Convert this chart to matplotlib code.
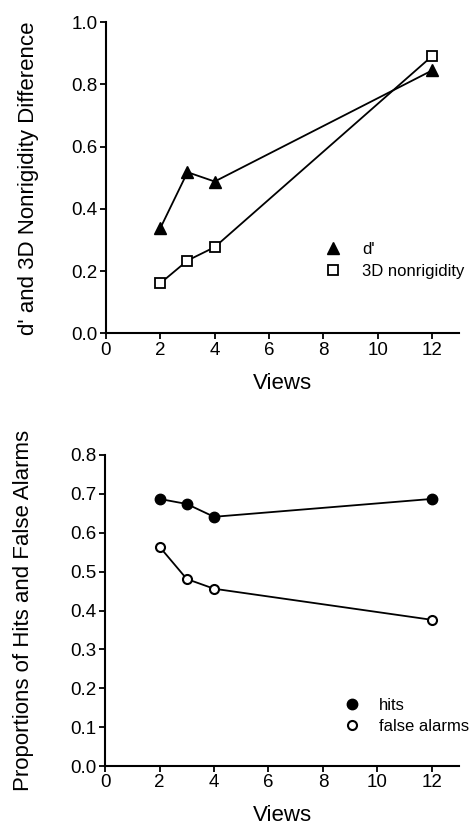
import matplotlib
matplotlib.use("Agg")
import matplotlib.pyplot as plt
from matplotlib.lines import Line2D

plt.rcParams['font.family'] = ['Liberation Sans', 'DejaVu Sans']

# data
views = [2, 3, 4, 12]
d_prime = [0.338, 0.518, 0.488, 0.845]
nonrigidity = [0.161, 0.234, 0.277, 0.891]
hits = [0.687, 0.674, 0.641, 0.687]
false_alarms = [0.564, 0.481, 0.456, 0.376]

x_ticks = [0, 2, 4, 6, 8, 10, 12]
top_yticks = [0.0, 0.2, 0.4, 0.6, 0.8, 1.0]
bot_yticks = [0.0, 0.1, 0.2, 0.3, 0.4, 0.5, 0.6, 0.7, 0.8]

fig = plt.figure(figsize=(4.69, 8.25), dpi=100)
ax1 = fig.add_axes([0.226, 0.596, 0.753, 0.377])
ax2 = fig.add_axes([0.224, 0.0715, 0.755, 0.377])


def style_axes(ax, yticks):
    ax.spines['top'].set_visible(False)
    ax.spines['right'].set_visible(False)
    ax.spines['left'].set_linewidth(1.5)
    ax.spines['bottom'].set_linewidth(1.5)
    ax.set_xlim(0, 13)
    ax.set_ylim(yticks[0], yticks[-1])
    ax.set_xticks(x_ticks)
    ax.set_yticks(yticks)
    ax.set_yticklabels([f"{v:.1f}" for v in yticks])
    ax.tick_params(direction='out', length=4, width=1.3, labelsize=13.5, pad=2)
    ax.set_xlabel("Views", fontsize=16, labelpad=10)


# top panel
ax1.plot(views, d_prime, color='black', lw=1.3, marker='^', ms=9,
         mfc='black', mec='black', clip_on=False)
ax1.plot(views, nonrigidity, color='black', lw=1.3, marker='s', ms=7.5,
         mfc='white', mec='black', mew=1.3, clip_on=False)
style_axes(ax1, top_yticks)
ax1.set_ylabel("d' and 3D Nonrigidity Difference", fontsize=16, labelpad=23)
handles1 = [Line2D([], [], ls='none', marker='^', ms=9, color='black'),
            Line2D([], [], ls='none', marker='s', ms=7.5, mfc='white',
                   mec='black', mew=1.3)]
ax1.legend(handles1, ["d'", "3D nonrigidity"], frameon=False, fontsize=12,
           loc='upper left', bbox_to_anchor=(0.6, 0.315), handlelength=1,
           handletextpad=1.25, labelspacing=0.4, borderaxespad=0)

# bottom panel
ax2.plot(views, hits, color='black', lw=1.3, marker='o', ms=7.5,
         mfc='black', mec='black', clip_on=False)
ax2.plot(views, false_alarms, color='black', lw=1.3, marker='o', ms=6.5,
         mfc='white', mec='black', mew=1.5, clip_on=False)
style_axes(ax2, bot_yticks)
ax2.set_ylabel("Proportions of Hits and False Alarms", fontsize=16, labelpad=26)
handles2 = [Line2D([], [], ls='none', marker='o', ms=7.5, color='black'),
            Line2D([], [], ls='none', marker='o', ms=6.5, mfc='white',
                   mec='black', mew=1.5)]
ax2.legend(handles2, ["hits", "false alarms"], frameon=False, fontsize=12,
           loc='upper left', bbox_to_anchor=(0.655, 0.24), handlelength=1,
           handletextpad=1.1, labelspacing=0.35, borderaxespad=0)

fig.savefig("out.png", dpi=100)
